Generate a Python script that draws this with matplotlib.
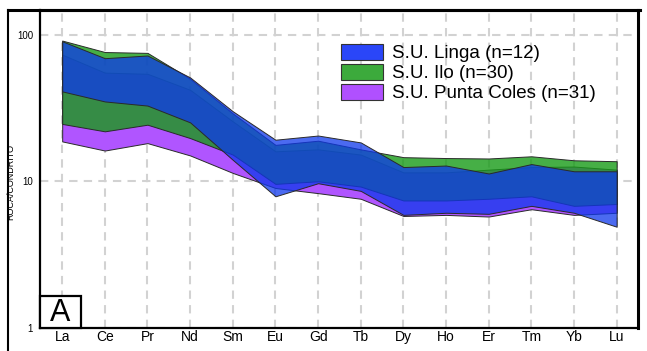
import matplotlib
matplotlib.use("Agg")
import matplotlib.pyplot as plt
from matplotlib.patches import Patch, Rectangle
from matplotlib.lines import Line2D

plt.rcParams['font.family'] = ['Liberation Sans', 'DejaVu Sans']

# REE normalised to chondrite, min/max envelope per unit
elements = ['La', 'Ce', 'Pr', 'Nd', 'Sm', 'Eu', 'Gd', 'Tb', 'Dy', 'Ho', 'Er', 'Tm', 'Yb', 'Lu']

linga_max = [90, 69, 72, 51, 30, 19.2, 20.5, 18.4, 12.5, 12.8, 11.3, 13.1, 11.7, 11.7]
linga_min = [41, 35, 32.8, 25.2, 14, 7.9, 9.7, 8.6, 5.9, 6.1, 6.0, 6.8, 6.1, 4.9]

ilo_max = [91, 76, 75, 50, 29, 17.7, 18.9, 16.5, 14.6, 14.4, 14.3, 14.8, 13.9, 13.7]
ilo_min = [24.6, 21.9, 24.3, 19.7, 15.2, 9.6, 10.0, 9.2, 7.4, 7.4, 7.6, 7.9, 6.8, 7.0]

pcoles_max = [73, 55, 54, 42, 25.6, 16, 16.5, 15.2, 11.5, 11.5, 12, 12.5, 12.6, 12]
pcoles_min = [18.7, 16.2, 18.2, 15, 11.4, 9.0, 8.3, 7.6, 5.8, 5.9, 5.75, 6.45, 5.9, 6.1]

labels = ['S.U. Linga (n=12)', 'S.U. Ilo (n=30)', 'S.U. Punta Coles (n=31)']

fig = plt.figure(figsize=(6.47, 3.51), dpi=100)
ax = fig.add_axes([40 / 647, 23 / 351, 598 / 647, 318 / 351])

x = list(range(len(elements)))
edge = '#2a2a2a'
ax.fill_between(x, pcoles_min, pcoles_max, facecolor='#b055ff', edgecolor=edge, lw=0.7, zorder=2)
ax.fill_between(x, ilo_min, ilo_max, facecolor=(24/255, 155/255, 24/255, 0.8), edgecolor=edge, lw=0.7, zorder=3)
ax.fill_between(x, linga_min, linga_max, facecolor=(14/255, 56/255, 235/255, 0.75), edgecolor=edge, lw=0.7, zorder=4)

ax.set_yscale('log')
ax.set_ylim(1, 147)
ax.set_xlim(-0.52, 13.5)
ax.set_xticks(x)
ax.set_xticklabels(elements, fontsize=10)
ax.set_yticks([1, 10, 100])
ax.set_yticklabels(['1', '10', '100'], fontsize=7)
ax.yaxis.set_minor_locator(matplotlib.ticker.NullLocator())
ax.tick_params(axis='x', length=0, pad=1.5)
ax.tick_params(axis='y', length=0, pad=5)

ax.set_axisbelow(True)
ax.grid(True, color='#d2d2d2', lw=1.5, ls=(0, (4, 3)))

for s in ['left', 'bottom']:
    ax.spines[s].set_linewidth(1.6)
for s in ['top', 'right']:
    ax.spines[s].set_linewidth(2.2)

ax.set_ylabel('ROCA/CONDRITO', fontsize=6.5)
ax.yaxis.set_label_coords(-0.042, 0.46)

# panel letter
ax.add_patch(Rectangle((0, 0), 41 / 598, 32 / 318, transform=ax.transAxes,
                       facecolor='white', edgecolor='black', lw=1.6, zorder=6, clip_on=False))
ax.text(20.5 / 598, 15 / 318, 'A', transform=ax.transAxes, fontsize=22,
        ha='center', va='center', zorder=7)

handles = [Patch(facecolor='#2a46f8', edgecolor='#333333', lw=0.8),
           Patch(facecolor='#3caa3c', edgecolor='#333333', lw=0.8),
           Patch(facecolor='#b050ff', edgecolor='#333333', lw=0.8)]
ax.legend(handles, labels, loc='upper left', bbox_to_anchor=(301 / 598, 284 / 318),
          frameon=False, fontsize=13.5, handlelength=2.25, handleheight=0.9,
          labelspacing=0.1, handletextpad=0.45, borderpad=0, borderaxespad=0)

# outer frame
fig.add_artist(Line2D([8 / 647, 8 / 647], [0, 341 / 351], color='black', lw=1.5, transform=fig.transFigure))
fig.add_artist(Line2D([8 / 647, 640 / 647], [341 / 351, 341 / 351], color='black', lw=2.2, transform=fig.transFigure))

fig.savefig('out.png', dpi=100)
